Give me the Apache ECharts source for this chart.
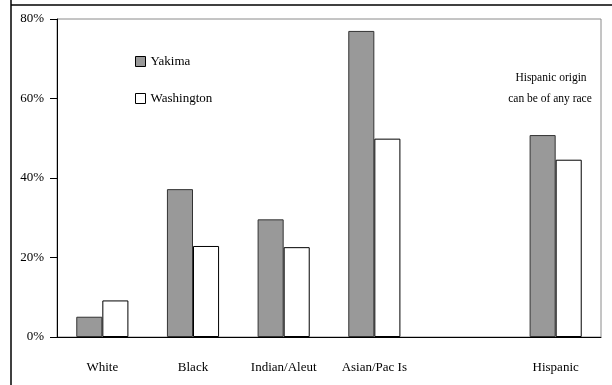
<!DOCTYPE html>
<html>
<head>
<meta charset="utf-8">
<script src="https://cdn.jsdelivr.net/npm/echarts@6/dist/echarts.min.js"></script>
<style>
html,body{margin:0;padding:0;background:#fff;}
#chart{width:612px;height:385px;}
</style>
</head>
<body>
<div id="chart"></div>
<script>
var categories = ['White', 'Black', 'Indian/Aleut', 'Asian/Pac Is', '', 'Hispanic'];
var yakima = [5.1, 37.2, 29.6, 77.0, null, 50.8];
var washington = [9.2, 22.9, 22.6, 49.9, null, 44.6];
var seriesNames = ['Yakima', 'Washington'];
var yTicks = [0, 20, 40, 60, 80];
var noteLines = ['Hispanic origin', 'can be of any race'];

var FONT = "'Liberation Serif', 'Times New Roman', serif";
var chart = echarts.init(document.getElementById('chart'), null, {renderer: 'canvas'});

chart.setOption({
  animation: false,
  backgroundColor: '#fff',
  textStyle: {fontFamily: FONT},
  grid: {left: 57, right: 11, top: 19, bottom: 48, show: true, borderColor: '#8a8a8a', borderWidth: 1, backgroundColor: 'transparent'},
  legend: {
    orient: 'vertical', left: 130, top: 50, itemWidth: 10, itemHeight: 10, itemGap: 24,
    icon: 'rect',
    itemStyle: {borderColor: '#000', borderWidth: 1},
    textStyle: {fontFamily: FONT, fontSize: 13, color: '#000'},
    data: seriesNames
  },
  xAxis: {
    type: 'category', data: categories,
    axisLine: {lineStyle: {color: '#000', width: 1}},
    axisTick: {show: false},
    axisLabel: {color: '#000', fontFamily: FONT, fontSize: 13, margin: 24, interval: 0},
    splitLine: {show: false}
  },
  yAxis: {
    type: 'value', min: yTicks[0], max: yTicks[yTicks.length - 1], interval: 20,
    axisLine: {show: true, lineStyle: {color: '#000', width: 1}},
    axisTick: {show: true, length: 7, lineStyle: {color: '#000'}},
    axisLabel: {color: '#000', fontFamily: FONT, fontSize: 13, margin: 13, formatter: '{value}%'},
    splitLine: {show: false}
  },
  series: [
    {name: seriesNames[0], type: 'bar', data: yakima, barGap: '0%', barCategoryGap: '42.5%',
     itemStyle: {color: '#999999', borderColor: '#333', borderWidth: 1}},
    {name: seriesNames[1], type: 'bar', data: washington,
     itemStyle: {color: '#ffffff', borderColor: '#000', borderWidth: 1}}
  ],
  graphic: [
    {type: 'line', shape: {x1: 11, y1: 0, x2: 11, y2: 385}, style: {stroke: '#000', lineWidth: 1.5}},
    {type: 'line', shape: {x1: 11, y1: 5, x2: 612, y2: 5}, style: {stroke: '#000', lineWidth: 1.5}},
    {type: 'text', x: 551, y: 78, style: {text: noteLines[0], font: '11.5px ' + FONT, fill: '#000', align: 'center', verticalAlign: 'middle'}},
    {type: 'text', x: 550, y: 99, style: {text: noteLines[1], font: '11.5px ' + FONT, fill: '#000', align: 'center', verticalAlign: 'middle'}}
  ]
});
</script>
</body>
</html>
